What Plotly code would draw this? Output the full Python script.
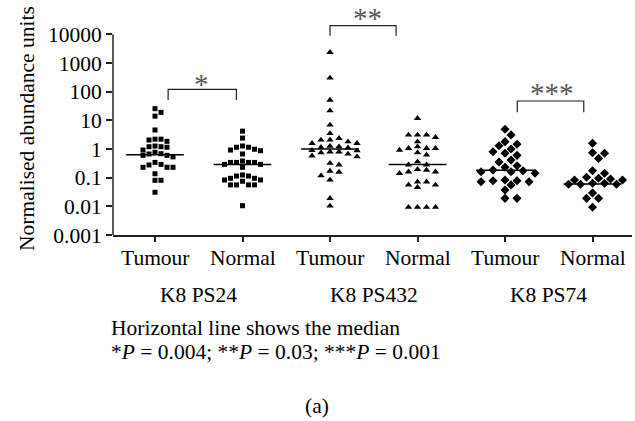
import numpy as np
import plotly.graph_objects as go

# ---------------- data ----------------
categories = ["Tumour", "Normal", "Tumour", "Normal", "Tumour", "Normal"]
group_labels = ["K8 PS24", "K8 PS432", "K8 PS74"]

ps24_tumour = [25.5, 19, 14, 4.6, 2.2, 1.85, 2.06, 2.2, 1.2, 1.15, 0.92, 1.2, 1.27,
               0.685, 0.6, 0.53, 0.6, 0.67, 0.77, 0.34, 0.29, 0.23, 0.23, 0.23, 0.277,
               0.137, 0.081, 0.081, 0.031]
ps24_normal = [4.2, 2.4, 1.27, 1.15, 1.15, 0.98, 0.92, 0.87, 0.67, 0.38, 0.34, 0.34,
               0.34, 0.34, 0.29, 0.29, 0.23, 0.124, 0.114, 0.114, 0.095, 0.095, 0.083,
               0.083, 0.075, 0.056, 0.056, 0.056, 0.056, 0.0105]
ps432_tumour = [2360, 300, 51, 21.7, 6.9, 3.5, 1.8, 1.58, 2.06, 2.06, 2.36, 1.58, 1.25,
                1.2, 1.15, 1.1, 0.9, 0.8, 0.8, 0.74, 0.87, 0.54, 0.58, 0.67, 0.28, 0.32,
                0.17, 0.157, 0.117, 0.083, 0.019, 0.0103]
ps432_normal = [11.8, 3.1, 2.56, 3.1, 3.1, 1.8, 1.06, 1.06, 1.2, 0.92, 1.06, 0.62, 0.74,
                0.36, 0.28, 0.28, 0.196, 0.16, 0.142, 0.16, 0.185, 0.072, 0.056, 0.046,
                0.056, 0.072, 0.0093, 0.0093, 0.0093, 0.0093]
ps74_tumour = [4.9, 3.1, 1.8, 1.46, 1.3, 1.0, 0.8, 0.71, 0.6, 0.41, 0.35, 0.26, 0.23,
               0.185, 0.175, 0.16, 0.16, 0.142, 0.083, 0.078, 0.078, 0.072, 0.072, 0.056,
               0.037, 0.019, 0.019]
ps74_normal = [1.58, 0.71, 0.74, 0.47, 0.175, 0.142, 0.103, 0.083, 0.083, 0.09, 0.095,
               0.059, 0.059, 0.064, 0.059, 0.064, 0.019, 0.029, 0.019, 0.0093]

medians = [0.63, 0.29, 1.0, 0.29, 0.18, 0.06]

y_tickvals = [0.001, 0.01, 0.1, 1, 10, 100, 1000, 10000]
y_ticktext = ["0.001", "0.01", "0.1", "1", "10", "100", "1000", "10000"]

sig_labels = ["*", "**", "***"]
axis_title = "Normalised abundance units"
footnote_1 = "Horizontal line shows the median"
footnote_2 = "*<i>P</i> = 0.004; **<i>P</i> = 0.03; ***<i>P</i> = 0.001"
panel_label = "(a)"

series = [ps24_tumour, ps24_normal, ps432_tumour, ps432_normal, ps74_tumour, ps74_normal]

# ---------------- geometry ----------------
W, H = 635, 421
ML, MR, MT, MB = 113, 3, 21, 186
PW, PH = W - ML - MR, H - MT - MB
XR = [-0.48, 5.451]
YR = [-3, -3 + PH / 28.67]
PPC = PW / (XR[1] - XR[0])
PPD = PH / (YR[1] - YR[0])

FONT = "Liberation Serif"
FS = 21.5


def px_x(xp):
    return (xp - ML) / PW


def px_y(yp):
    return (H - MB - yp) / PH


def swarm_offsets(vals, w, h, metric="rect"):
    ys = np.log10(np.asarray(vals, float)) * PPD
    order = np.argsort(-ys, kind="stable")
    placed = []
    offs = np.zeros(len(vals))
    cands = [0.0]
    for k in range(1, 40):
        cands += [k * w / 2, -k * w / 2]

    def collide(dx, dy):
        if metric == "rect":
            return abs(dx) < w - 1e-6 and abs(dy) < h - 1e-6
        return abs(dx) / w + abs(dy) / h < 1 - 1e-6

    for i in order:
        for c in cands:
            if not any(collide(c - p, ys[i] - q) for p, q in placed):
                break
        placed.append((c, ys[i]))
        offs[i] = c
    return offs / PPC


symbols = ["square", "square", "triangle-up", "triangle-up", "diamond", "diamond"]
msizes = [5, 5, 6.5, 6.5, 7, 7]
coll = [(6, 5, "rect"), (6, 5, "rect"), (9, 5, "rect"), (9, 5, "rect"),
        (12, 8, "diamond"), (12, 8, "diamond")]

fig = go.Figure()
for i, vals in enumerate(series):
    offs = swarm_offsets(vals, *coll[i])
    fig.add_trace(go.Scatter(
        x=i + offs, y=vals, mode="markers",
        marker=dict(symbol=symbols[i], size=msizes[i], color="black", line=dict(width=0)),
        showlegend=False, hoverinfo="y"))
    fig.add_trace(go.Scatter(
        x=[i - 0.33, i + 0.33], y=[medians[i], medians[i]], mode="lines",
        line=dict(color="black", width=1.5), showlegend=False, hoverinfo="skip"))

# significance brackets (x extents in category units, y in pixels from top)
brackets = [
    (0.15, 0.93, 89.3, 100.0, 201.7, 80),
    (0.0, 0.755, 25.7, 35.7, 367.5, 14),
    (0.14, 0.9, 101.0, 112.3, 551.7, 88.5),
]
y1_px = H - MB - 3 * PPD  # pixel of value 1


def px_to_val(yp):
    return 10 ** ((y1_px - yp) / PPD)


for k, (a, b, ytop, ybot, sx, sy) in enumerate(brackets):
    base = 2 * k
    fig.add_trace(go.Scatter(
        x=[base + a, base + a, base + b, base + b],
        y=[px_to_val(ybot), px_to_val(ytop), px_to_val(ytop), px_to_val(ybot)],
        mode="lines", line=dict(color="#222", width=1.2),
        showlegend=False, hoverinfo="skip"))
    fig.add_annotation(text=sig_labels[k], xref="paper", yref="paper",
                       x=px_x(sx), y=px_y(sy + 4), showarrow=False,
                       xanchor="center", yanchor="middle",
                       font=dict(family=FONT, size=29, color="#555"))

# y axis line from 0.001 to 10000
fig.add_shape(type="line", xref="paper", yref="paper", x0=0, x1=0,
              y0=0, y1=(4 - YR[0]) / (YR[1] - YR[0]),
              line=dict(color="#222", width=1.5))

# category labels
for i, c in enumerate(categories):
    fig.add_annotation(text=c, xref="x", yref="paper", x=i, y=px_y(257.5),
                       showarrow=False, xanchor="center", yanchor="middle",
                       font=dict(family=FONT, size=FS, color="black"))

# group labels
for k, g in enumerate(group_labels):
    fig.add_annotation(text=g, xref="x", yref="paper", x=2 * k + 0.5, y=px_y(294.5),
                       showarrow=False, xanchor="center", yanchor="middle",
                       font=dict(family=FONT, size=FS, color="black"))

fig.add_annotation(text=footnote_1, xref="paper", yref="paper", x=px_x(109), y=px_y(328),
                   showarrow=False, xanchor="left", yanchor="middle",
                   font=dict(family=FONT, size=FS, color="black"))
fig.add_annotation(text=footnote_2, xref="paper", yref="paper", x=px_x(109), y=px_y(352),
                   showarrow=False, xanchor="left", yanchor="middle",
                   font=dict(family=FONT, size=FS, color="black"))
fig.add_annotation(text=panel_label, xref="paper", yref="paper", x=px_x(317), y=px_y(406),
                   showarrow=False, xanchor="center", yanchor="middle",
                   font=dict(family=FONT, size=FS, color="black"))
fig.add_annotation(text=axis_title, xref="paper", yref="paper", x=px_x(27), y=px_y(129),
                   showarrow=False, xanchor="center", yanchor="middle", textangle=-90,
                   font=dict(family=FONT, size=FS, color="black"))

fig.update_layout(
    width=W, height=H,
    margin=dict(l=ML, r=MR, t=MT, b=MB, pad=0),
    paper_bgcolor="white", plot_bgcolor="white",
    font=dict(family=FONT, size=FS, color="black"),
    xaxis=dict(range=XR, tickvals=list(range(6)), showticklabels=False,
               showline=True, linecolor="#222", linewidth=1.5,
               ticks="outside", ticklen=5, tickwidth=1.5, tickcolor="#222",
               showgrid=False, zeroline=False, fixedrange=True),
    yaxis=dict(type="log", range=YR, tickvals=y_tickvals, ticktext=y_ticktext,
               showline=False, ticks="outside", ticklen=6, tickwidth=1.5,
               tickcolor="#222", showgrid=False, zeroline=False, fixedrange=True,
               tickfont=dict(family=FONT, size=FS, color="black")),
)

fig.write_html("out.html")
